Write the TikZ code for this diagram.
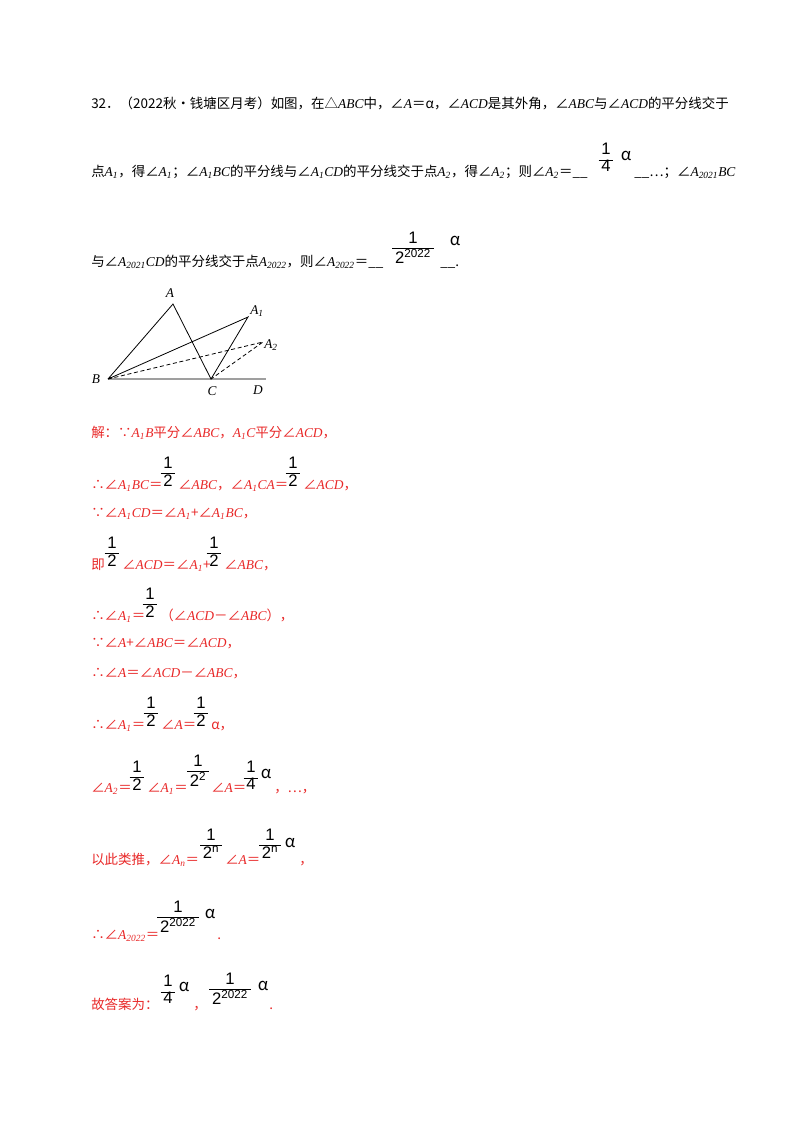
\documentclass[tikz,border=0pt]{standalone}
\usepackage{fontspec}
\setmainfont{Noto Sans CJK SC}
\newfontfamily\lat{Liberation Serif}
\newfontfamily\las{Liberation Sans}
\newcommand\vi[1]{{\lat\itshape #1}}
\newcommand\sbx[1]{\textsubscript{\lat\itshape #1}}
\newcommand\fr[2]{\las\renewcommand\arraystretch{0.85}\setlength\arrayrulewidth{0.7pt}\begin{tabular}{@{\,}c@{\,}}#1\\\hline #2\end{tabular}}
\definecolor{red1}{RGB}{232,40,40}
\begin{document}
\begin{tikzpicture}[x=0.75pt,y=-0.75pt,
  t/.style={anchor=base west,inner sep=0,font=\fontsize{10.1}{12}\selectfont},
  r/.style={t,text=red1},
  f/.style={anchor=center,inner sep=0,font=\fontsize{12.5}{14}\selectfont,text=black},
  ln/.style={line width=0.6pt},
  dl/.style={line width=0.6pt,dash pattern=on 3pt off 2pt}]
\useasboundingbox (0,0) rectangle (800,1132);
% question
\node[t] (q1) at (91,108) {32．（2022秋•钱塘区月考）如图，在△\vi{ABC}中，∠\vi{A}＝α，∠\vi{ACD}是其外角，∠\vi{ABC}与∠\vi{ACD}的平分线交于};
\node[t] (q2) at (91,176) {点\vi{A}\sbx{1}，得∠\vi{A}\sbx{1}；∠\vi{A}\sbx{1}\vi{BC}的平分线与∠\vi{A}\sbx{1}\vi{CD}的平分线交于点\vi{A}\sbx{2}，得∠\vi{A}\sbx{2}；则∠\vi{A}\sbx{2}＝\_\_};
\node[f] (qf1) at (606,160) {\fr{1}{4}};
\node[f] (qa1) at (626,156) {α};
\node[t] (q2b) at (634,176) {\_\_…；∠\vi{A}\sbx{2021}\vi{BC}};
\node[t] (q3) at (91,266) {与∠\vi{A}\sbx{2021}\vi{CD}的平分线交于点\vi{A}\sbx{2022}，则∠\vi{A}\sbx{2022}＝\_\_};
\node[f] (qf2) at (413,250) {\fr{1}{2\textsuperscript{2022}}};
\node[f] (qa2) at (455,241) {α};
\node[t] (q3b) at (440,266) {\_\_.};
% figure
\coordinate (B) at (108,379);
\coordinate (C) at (211,379);
\coordinate (D) at (266,379);
\coordinate (A) at (173,304);
\coordinate (A1) at (248,317);
\coordinate (A2) at (263,342);
\draw[line width=1.8pt,gray!75] (B) -- (D);
\draw[ln] (B) -- (A) -- (C) -- (A1) -- (B);
\draw[dl] (B) -- (A2) -- (C);
\tikzset{lb/.style={inner sep=0,font=\lat\itshape\fontsize{10}{12}\selectfont}}
\node[lb] (lA) at (170,293) {A};
\node[lb] (lA1) at (257,311) {A\textsubscript{1}};
\node[lb] (lA2) at (271,345) {A\textsubscript{2}};
\node[lb] (lB) at (96,379) {B};
\node[lb] (lC) at (212,391) {C};
\node[lb] (lD) at (258,390) {D};
% solution
\node[r] (s1) at (91,437) {解：∵\vi{A}\sbx{1}\vi{B}平分∠\vi{ABC}，\vi{A}\sbx{1}\vi{C}平分∠\vi{ACD}，};
\node[r] (s2) at (91,489) {∴∠\vi{A}\sbx{1}\vi{BC}＝};
\node[f] (s2f) at (168,474) {\fr{1}{2}};
\node[r] (s2b) at (178,489) {∠\vi{ABC}，∠\vi{A}\sbx{1}\vi{CA}＝};
\node[f] (s2g) at (293,474) {\fr{1}{2}};
\node[r] (s2c) at (303,489) {∠\vi{ACD}，};
\node[r] (s3) at (91,517) {∵∠\vi{A}\sbx{1}\vi{CD}＝∠\vi{A}\sbx{1}+∠\vi{A}\sbx{1}\vi{BC}，};
\node[r] (s4) at (91,569) {即};
\node[f] (s4f) at (112,554) {\fr{1}{2}};
\node[r] (s4b) at (122,569) {∠\vi{ACD}＝∠\vi{A}\sbx{1}+};
\node[f] (s4g) at (214,554) {\fr{1}{2}};
\node[r] (s4c) at (224,569) {∠\vi{ABC}，};
\node[r] (s5) at (91,620) {∴∠\vi{A}\sbx{1}＝};
\node[f] (s5f) at (150,605) {\fr{1}{2}};
\node[r] (s5b) at (160,620) {（∠\vi{ACD}－∠\vi{ABC}），};
\node[r] (s6) at (91,647) {∵∠\vi{A}+∠\vi{ABC}＝∠\vi{ACD}，};
\node[r] (s7) at (91,677) {∴∠\vi{A}＝∠\vi{ACD}－∠\vi{ABC}，};
\node[r] (s8) at (91,729) {∴∠\vi{A}\sbx{1}＝};
\node[f] (s8f) at (151,714) {\fr{1}{2}};
\node[r] (s8b) at (161,729) {∠\vi{A}＝};
\node[f] (s8g) at (201,714) {\fr{1}{2}};
\node[r] (s8c) at (211,729) {α，};
\node[r] (s9) at (91,792) {∠\vi{A}\sbx{2}＝};
\node[f] (s9f) at (137,778) {\fr{1}{2}};
\node[r] (s9b) at (147,792) {∠\vi{A}\sbx{1}＝};
\node[f] (s9g) at (198,773) {\fr{1}{2\textsuperscript{2}}};
\node[r] (s9c) at (211,792) {∠\vi{A}＝};
\node[f] (s9h) at (251,778) {\fr{1}{4}};
\node[f] (s9a) at (266,774) {α};
\node[r] (s9d) at (274,792) {，…，};
\node[r] (s10) at (91,864) {以此类推，∠\vi{A}\sbx{n}＝};
\node[f] (s10f) at (211,846) {\fr{1}{2\textsuperscript{n}}};
\node[r] (s10b) at (225,864) {∠\vi{A}＝};
\node[f] (s10g) at (270,846) {\fr{1}{2\textsuperscript{n}}};
\node[f] (s10a) at (290,843) {α};
\node[r] (s10c) at (299,864) {，};
\node[r] (s11) at (91,939) {∴∠\vi{A}\sbx{2022}＝};
\node[f] (s11f) at (178,919) {\fr{1}{2\textsuperscript{2022}}};
\node[f] (s11a) at (210,914) {α};
\node[r] (s11b) at (217,939) {.};
\node[r] (s12) at (91,1009) {故答案为：};
\node[f] (s12f) at (168,992) {\fr{1}{4}};
\node[f] (s12a) at (184,987) {α};
\node[r] (s12b) at (193,1009) {，};
\node[f] (s12g) at (230,991) {\fr{1}{2\textsuperscript{2022}}};
\node[f] (s12h) at (263,986) {α};
\node[r] (s12c) at (269,1009) {.};
\end{tikzpicture}
\end{document}
